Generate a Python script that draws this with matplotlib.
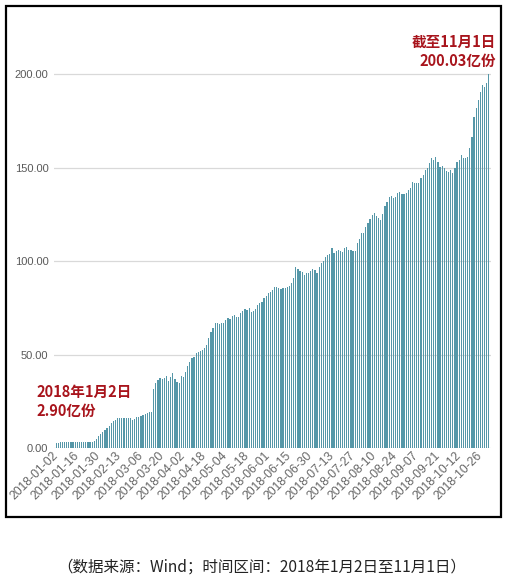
import numpy as np
import matplotlib.pyplot as plt
import matplotlib.patches as mpatches
from matplotlib.transforms import ScaledTranslation

plt.rcParams['font.family'] = ['Noto Sans CJK SC', 'DejaVu Sans']

# --- DATA (亿份, one bar per reporting day, 2018-01-02 .. 2018-11-01) ---
shares = [
    2.90, 2.92, 2.95, 2.97, 3.00, 3.02, 3.03, 3.05, 3.06, 3.08,
    3.10, 3.12, 3.15, 3.18, 3.20, 3.22, 3.25, 3.30, 3.60, 5.00,
    6.20, 7.50, 8.60, 9.80, 10.9, 12.0, 13.2, 14.2, 15.0, 15.8,
    16.0, 15.8, 16.2, 16.0, 16.3, 15.9, 15.2, 15.6, 16.4, 16.8,
    17.2, 17.5, 18.0, 18.6, 19.0, 19.5, 31.5, 35.0, 36.5, 37.5,
    37.0, 37.3, 38.5, 36.0, 38.0, 40.3, 37.0, 35.5, 35.0, 38.5,
    38.0, 40.8, 43.9, 46.2, 48.0, 48.8, 51.0, 51.5, 52.0, 52.4,
    53.4, 55.0, 58.6, 62.2, 64.0, 67.0, 66.7, 66.3, 66.8, 67.0,
    68.4, 69.3, 69.0, 70.5, 71.1, 70.2, 70.0, 72.4, 73.4, 74.2,
    74.0, 74.7, 73.0, 73.2, 74.2, 76.5, 77.5, 78.2, 80.0, 81.3,
    82.7, 83.5, 84.5, 86.0, 86.2, 85.5, 85.3, 85.8, 85.7, 86.0,
    86.5, 88.0, 91.0, 97.0, 95.5, 94.8, 94.3, 92.5, 93.4, 93.8,
    94.5, 95.5, 95.0, 93.5, 97.0, 98.7, 100.2, 102.0, 103.2, 103.7,
    106.8, 104.5, 105.5, 105.9, 105.5, 105.0, 106.8, 107.6, 105.9, 105.9,
    105.6, 105.3, 109.8, 112.0, 115.1, 115.0, 118.0, 120.5, 122.3, 124.6,
    125.5, 124.0, 122.8, 122.0, 125.0, 129.4, 131.7, 134.5, 135.0, 133.5,
    134.4, 136.2, 137.0, 135.8, 135.8, 136.5, 138.0, 138.9, 142.4, 141.5,
    141.5, 141.7, 144.2, 146.0, 148.7, 149.6, 152.2, 154.9, 154.0, 155.8,
    153.0, 150.4, 150.8, 149.6, 148.2, 147.8, 148.7, 146.9, 150.0, 153.1,
    154.0, 156.7, 154.9, 154.9, 155.5, 160.3, 166.5, 177.2, 181.6, 186.0,
    190.5, 194.0, 192.9, 195.0, 200.03,
]

tick_labels = [
    "2018-01-02", "2018-01-16", "2018-01-30", "2018-02-13", "2018-03-06",
    "2018-03-20", "2018-04-02", "2018-04-18", "2018-05-04", "2018-05-18",
    "2018-06-01", "2018-06-15", "2018-06-30", "2018-07-13", "2018-07-27",
    "2018-08-10", "2018-08-24", "2018-09-07", "2018-09-21", "2018-10-12",
    "2018-10-26",
]
tick_step = 10
y_ticks = [0, 50, 100, 150, 200]

first_date = "2018年1月2日"
last_date = "截至11月1日"
caption = "（数据来源：Wind；时间区间：2018年1月2日至11月1日）"

W, H = 512, 584
fig = plt.figure(figsize=(W / 100, H / 100), dpi=100)
ax = fig.add_axes([54 / W, 136 / H, 437 / W, 402 / H])

x = np.arange(len(shares))
ax.bar(x, shares, width=0.58, color='#5597a8', zorder=2)

ax.set_xlim(-1, len(shares))
ax.set_ylim(0, 215)
ax.set_yticks(y_ticks)
ax.set_yticklabels([f"{v:.2f}" for v in y_ticks], fontsize=8,
                   color='#595959', family='Liberation Sans')
ax.set_xticks(x[::tick_step][:len(tick_labels)])
ax.set_xticklabels(tick_labels, fontsize=8.8, color='#666666',
                   family='Liberation Sans', rotation=45, ha='right',
                   va='center', rotation_mode='anchor')
offset = ScaledTranslation(10 / 100, -13 / 100, fig.dpi_scale_trans)
for lab in ax.get_xticklabels():
    lab.set_transform(lab.get_transform() + offset)

ax.tick_params(length=0, pad=4)
ax.yaxis.grid(True, color='#d9d9d9', lw=0.9, zorder=0)
for s in ax.spines.values():
    s.set_visible(False)

# annotations
red = '#a8141c'
fig.text(36 / W, 1 - 392 / H, first_date, ha='left', va='center',
         fontsize=10.5, fontweight='bold', color=red)
fig.text(36 / W, 1 - 411 / H, f"{shares[0]:.2f}亿份", ha='left', va='center',
         fontsize=10.5, fontweight='bold', color=red)
fig.text(496 / W, 1 - 42 / H, last_date, ha='right', va='center',
         fontsize=10.5, fontweight='bold', color=red)
fig.text(496 / W, 1 - 61 / H, f"{shares[-1]:.2f}亿份", ha='right', va='center',
         fontsize=10.5, fontweight='bold', color=red)

# frame around the chart
frame = mpatches.Rectangle((6 / W, 1 - 517 / H), 495 / W, 511 / H,
                           transform=fig.transFigure, fill=False,
                           edgecolor='black', lw=1.6)
fig.patches.append(frame)

fig.text(262 / W, 1 - 567 / H, caption, ha='center', va='center',
         fontsize=11.2, color='#222222')

fig.savefig('out.png', dpi=100)
